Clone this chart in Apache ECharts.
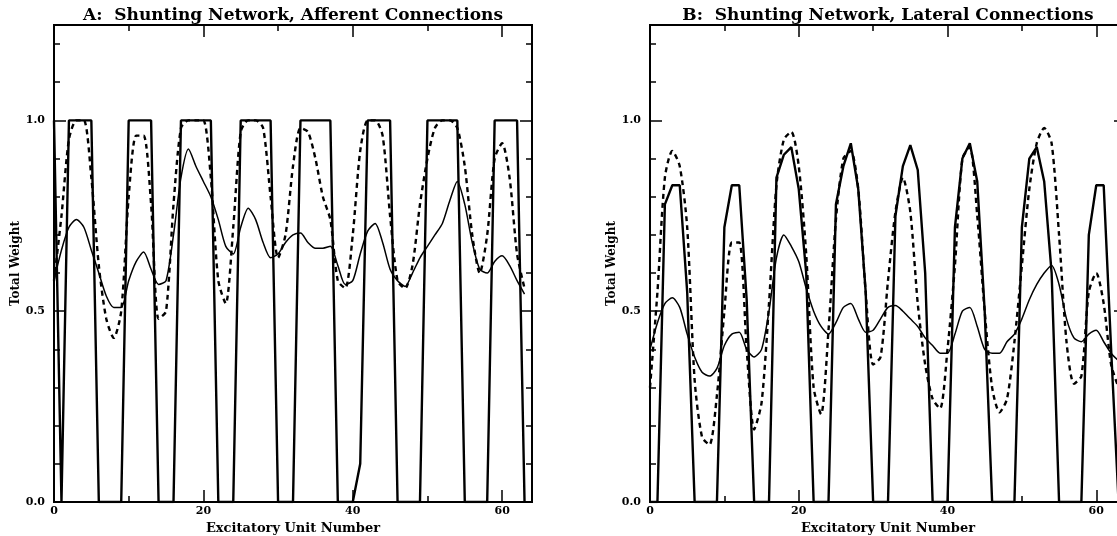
<!DOCTYPE html>
<html>
<head>
<meta charset="utf-8">
<script src="https://cdn.jsdelivr.net/npm/echarts@6/dist/echarts.min.js"></script>
<style>
  html, body { margin: 0; padding: 0; background: #fff; }
  #chart { width: 1117px; height: 536px; }
</style>
</head>
<body>
<div id="chart"></div>
<script>
// excitatory unit index along the x axis
const unitNumbers = [0, 1, 2, 3, 4, 5, 6, 7, 8, 9, 10, 11, 12, 13, 14, 15,
  16, 17, 18, 19, 20, 21, 22, 23, 24, 25, 26, 27, 28, 29, 30, 31,
  32, 33, 34, 35, 36, 37, 38, 39, 40, 41, 42, 43, 44, 45, 46, 47,
  48, 49, 50, 51, 52, 53, 54, 55, 56, 57, 58, 59, 60, 61, 62, 63];

// A: afferent connections
const afferentPattern = [1, 0, 1, 1, 1, 1, 0, 0, 0, 0, 1, 1, 1, 1, 0, 0,
  0, 1, 1, 1, 1, 1, 0, 0, 0, 1, 1, 1, 1, 1, 0, 0,
  0, 1, 1, 1, 1, 1, 0, 0, 0, 0.1, 1, 1, 1, 1, 0, 0,
  0, 0, 1, 1, 1, 1, 1, 0, 0, 0, 0, 1, 1, 1, 1, 0];
const afferentDashed = [0.58, 0.75, 0.95, 1.0, 1.0, 0.85, 0.62, 0.48, 0.43, 0.50, 0.80, 0.96, 0.96, 0.78, 0.48, 0.50,
  0.78, 0.98, 1.0, 1.0, 1.0, 0.85, 0.58, 0.52, 0.72, 0.97, 1.0, 1.0, 0.98, 0.80, 0.64, 0.70,
  0.88, 0.98, 0.97, 0.90, 0.80, 0.74, 0.58, 0.56, 0.70, 0.92, 1.0, 1.0, 0.96, 0.75, 0.58, 0.56,
  0.62, 0.78, 0.90, 0.98, 1.0, 1.0, 0.98, 0.88, 0.70, 0.60, 0.70, 0.90, 0.94, 0.85, 0.65, 0.56];
const afferentThin = [0.58, 0.66, 0.72, 0.74, 0.72, 0.66, 0.60, 0.54, 0.51, 0.51, 0.58, 0.63, 0.655, 0.61, 0.57, 0.58,
  0.70, 0.85, 0.925, 0.88, 0.84, 0.80, 0.74, 0.67, 0.65, 0.72, 0.77, 0.74, 0.68, 0.64, 0.65, 0.68,
  0.70, 0.705, 0.68, 0.665, 0.665, 0.67, 0.62, 0.57, 0.58, 0.65, 0.71, 0.73, 0.68, 0.61, 0.58, 0.565,
  0.60, 0.64, 0.67, 0.70, 0.73, 0.79, 0.84, 0.78, 0.68, 0.61, 0.60, 0.63, 0.645, 0.62, 0.58, 0.545];

// B: lateral connections
const lateralPattern = [0, 0, 0.78, 0.83, 0.83, 0.55, 0, 0, 0, 0, 0.72, 0.83, 0.83, 0.53, 0, 0,
  0, 0.85, 0.91, 0.93, 0.82, 0.60, 0, 0, 0, 0.78, 0.88, 0.94, 0.82, 0.55, 0, 0,
  0, 0.75, 0.88, 0.935, 0.87, 0.60, 0, 0, 0, 0.72, 0.90, 0.94, 0.84, 0.50, 0, 0,
  0, 0, 0.72, 0.90, 0.93, 0.84, 0.60, 0, 0, 0, 0, 0.70, 0.83, 0.83, 0.40, 0];
const lateralDashed = [0.30, 0.55, 0.85, 0.92, 0.88, 0.72, 0.32, 0.17, 0.15, 0.28, 0.50, 0.68, 0.68, 0.40, 0.19, 0.26,
  0.52, 0.83, 0.95, 0.97, 0.88, 0.65, 0.30, 0.23, 0.45, 0.74, 0.90, 0.92, 0.82, 0.55, 0.36, 0.38,
  0.58, 0.76, 0.85, 0.76, 0.52, 0.36, 0.27, 0.245, 0.40, 0.62, 0.90, 0.93, 0.75, 0.50, 0.30, 0.235,
  0.27, 0.42, 0.62, 0.82, 0.94, 0.98, 0.94, 0.70, 0.42, 0.31, 0.33, 0.55, 0.60, 0.52, 0.36, 0.30];
const lateralThin = [0.40, 0.47, 0.52, 0.535, 0.51, 0.44, 0.38, 0.34, 0.33, 0.35, 0.41, 0.44, 0.445, 0.40, 0.38, 0.40,
  0.50, 0.64, 0.70, 0.67, 0.63, 0.56, 0.50, 0.46, 0.44, 0.47, 0.51, 0.52, 0.48, 0.445, 0.45, 0.48,
  0.51, 0.515, 0.50, 0.48, 0.46, 0.43, 0.41, 0.39, 0.39, 0.44, 0.50, 0.51, 0.46, 0.40, 0.39, 0.39,
  0.42, 0.44, 0.48, 0.53, 0.57, 0.60, 0.62, 0.57, 0.48, 0.43, 0.42, 0.44, 0.45, 0.42, 0.39, 0.37];

const xTickLabels = [0, 20, 40, 60];
const yTickLabels = [0, 0.5, 1.0];
const panelTitles = ['A:  Shunting Network, Afferent Connections', 'B:  Shunting Network, Lateral Connections'];
const xTitle = 'Excitatory Unit Number';
const yTitle = 'Total Weight';

const xMax = 64;
const yMax = 1.25;
const FONT = 'DejaVu Serif';
const ink = '#000';

const panels = [
  { left: 54, width: 478, series: [afferentPattern, afferentDashed, afferentThin] },
  { left: 650, width: 476, series: [lateralPattern, lateralDashed, lateralThin] }
];

function tickAxis(dim, gridIndex, position, interval, tickLen, extra) {
  return Object.assign({
    gridIndex: gridIndex,
    type: 'value',
    position: position,
    min: 0,
    max: dim === 'x' ? xMax : yMax,
    interval: interval,
    axisLine: { show: true, onZero: false, lineStyle: { color: ink, width: 2 } },
    axisTick: { show: true, inside: true, length: tickLen, lineStyle: { color: ink, width: 1.5 } },
    axisLabel: { show: false },
    splitLine: { show: false }
  }, extra || {});
}

const labelStyle = { show: true, color: ink, fontFamily: FONT, fontWeight: 'bold', fontSize: 11 };
const nameStyle = { color: ink, fontFamily: FONT, fontWeight: 'bold', fontSize: 13 };

const grids = [], xAxes = [], yAxes = [], series = [], graphics = [];

panels.forEach((p, gi) => {
  grids.push({ left: p.left, top: 25, width: p.width, height: 477, outerBoundsMode: 'none', containLabel: false });

  // bottom/top x axes: short ticks every 10, long ticks every 20
  xAxes.push(tickAxis('x', gi, 'bottom', 10, 6, {
    axisLabel: Object.assign({}, labelStyle, {
      margin: 4,
      formatter: v => xTickLabels.includes(v) ? String(v) : ''
    }),
    name: xTitle, nameLocation: 'middle', nameGap: 17, nameTextStyle: nameStyle
  }));
  xAxes.push(tickAxis('x', gi, 'bottom', 20, 12));
  xAxes.push(tickAxis('x', gi, 'top', 10, 6));
  xAxes.push(tickAxis('x', gi, 'top', 20, 12));

  // left/right y axes: short ticks every 0.1, long ticks every 0.5
  yAxes.push(tickAxis('y', gi, 'left', 0.1, 6, {
    axisLabel: Object.assign({}, labelStyle, {
      margin: 9,
      formatter: v => {
        const hit = yTickLabels.find(t => Math.abs(t - v) < 1e-6);
        return hit === undefined ? '' : hit.toFixed(1);
      }
    }),
    name: yTitle, nameLocation: 'middle', nameGap: 31, nameTextStyle: Object.assign({}, nameStyle, { fontSize: 12 })
  }));
  yAxes.push(tickAxis('y', gi, 'left', 0.5, 12));
  yAxes.push(tickAxis('y', gi, 'right', 0.1, 6));
  yAxes.push(tickAxis('y', gi, 'right', 0.5, 12));

  const styles = [
    { color: ink, width: 2.4, type: 'solid' },
    { color: ink, width: 2.4, type: [5, 4] },
    { color: ink, width: 1.5, type: 'solid' }
  ];
  p.series.forEach((vals, si) => {
    series.push({
      type: 'line',
      xAxisIndex: gi * 4,
      yAxisIndex: gi * 4,
      data: unitNumbers.map((u, i) => [u, vals[i]]),
      showSymbol: false,
      symbol: 'none',
      smooth: si === 0 ? false : 0.25,
      lineStyle: styles[si],
      silent: true,
      z: 3 - si
    });
  });

  graphics.push({
    type: 'text',
    x: p.left + p.width / 2,
    y: 16,
    style: {
      text: panelTitles[gi],
      font: 'bold 17px "' + FONT + '"',
      fill: ink,
      align: 'center', verticalAlign: 'middle',
      textAlign: 'center', textVerticalAlign: 'middle'
    }
  });
});

const chart = echarts.init(document.getElementById('chart'), null, { renderer: 'canvas' });
chart.setOption({
  animation: false,
  backgroundColor: '#fff',
  grid: grids,
  xAxis: xAxes,
  yAxis: yAxes,
  series: series,
  graphic: graphics
});
</script>
</body>
</html>
